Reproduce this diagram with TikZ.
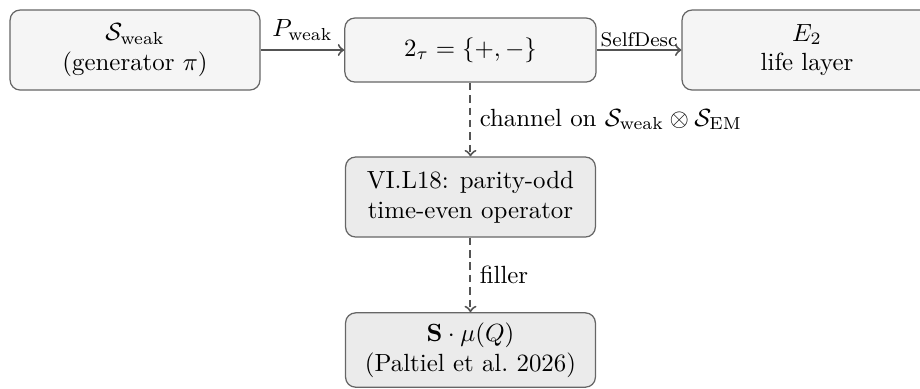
\documentclass[tikz,border=0pt]{standalone}
\usepackage{amsmath}
\usepackage{amssymb}
\usepackage{tikz}
\usepackage{xcolor}

\tikzset{
    stagebox/.style={draw=black!60, line width=0.5pt, rounded corners=4pt, align=center,
        minimum width=3.53cm, minimum height=1.13cm, inner sep=2pt},
    lightbox/.style={stagebox, fill=black!4},
    darkbox/.style={stagebox, fill=black!8},
    mapto/.style={->, draw=black!67, line width=0.8pt},
    weakto/.style={->, draw=black!67, line width=0.8pt, dash pattern=on 3pt off 2pt}
}

\begin{document}
\begin{tikzpicture}
        \useasboundingbox (0,0) rectangle (13,-5.483);
        \node[lightbox] (weak) at (1.908,-0.707) {$\mathcal{S}_{\text{weak}}$\\(generator $\pi$)};
        \node[lightbox, minimum height=0.904cm, minimum width=3.55cm] (parity) at (6.648,-0.707) {$2_\tau=\{+,-\}$};
        \node[lightbox] (life) at (11.403,-0.707) {$E_2$\\life layer};
        \node[darkbox] (oddop) at (6.648,-2.784) {VI.L18: parity-odd\\time-even operator};
        \node[darkbox, minimum height=1.05cm] (spin) at (6.648,-4.946) {$\mathbf{S}\cdot\mu(Q)$\\(Paltiel et al.\ 2026)};
        \draw[mapto] (weak) -- node[above]{$P_{\text{weak}}$} (parity);
        \draw[mapto] (parity) -- node[above, inner sep=1pt, font=\footnotesize]{SelfDesc} (life);
        \draw[weakto] (parity) -- node[right]{channel on $\mathcal{S}_{\text{weak}}\otimes\mathcal{S}_{\text{EM}}$} (oddop);
        \draw[weakto] (oddop) -- node[right]{filler} (spin);
    \end{tikzpicture}
\end{document}
